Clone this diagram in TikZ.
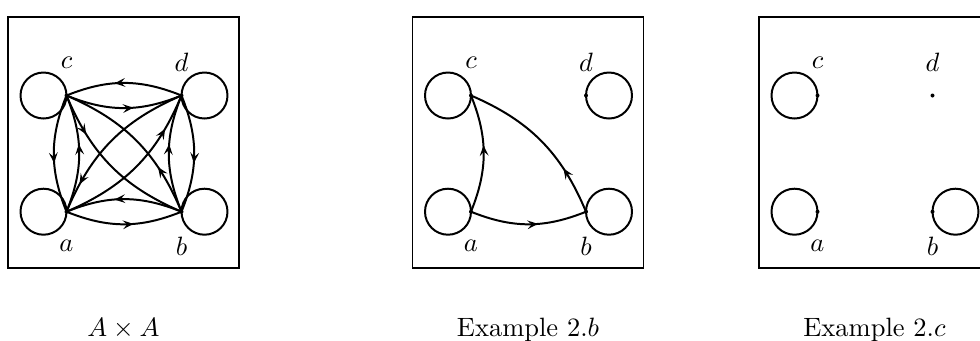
\documentclass[tikz,border=0pt]{standalone}
\usetikzlibrary{arrows.meta,decorations.markings}
\begin{document}
\begin{tikzpicture}[x=0.3774pt,y=0.3774pt,
  boxline/.style={line width=0.75pt},
  edge/.style={line width=0.75pt},
  loopline/.style={line width=0.75pt},
  marr/.style={postaction={decorate},decoration={markings,mark=at position #1 with {\arrow{Stealth[length=4pt,width=3.3pt,inset=1.6pt]}}}},
  lab/.style={inner sep=0pt},
  captext/.style={inner sep=0pt,anchor=base}]
\useasboundingbox (0,0) rectangle (980,340);
% boxes
\draw[boxline] (8,72) rectangle (239,323);
\draw[boxline] (412.5,72) rectangle (643.5,323);
\draw[boxline] (759,72) rectangle (990,323);
% points
\coordinate (p1c) at (66.5,244.5);  \coordinate (p1d) at (181.5,244.5);
\coordinate (p1a) at (66.5,128.3);  \coordinate (p1b) at (181.5,128.3);
\coordinate (p2c) at (471,244.5);   \coordinate (p2d) at (586,244.5);
\coordinate (p2a) at (471,128.3);   \coordinate (p2b) at (586,128.3);
\coordinate (p3c) at (817.5,244.5); \coordinate (p3d) at (932.5,244.5);
\coordinate (p3a) at (817.5,128.3); \coordinate (p3b) at (932.5,128.3);
% loops
\foreach \p in {p1c,p1a,p2c,p2a,p3c,p3a} \draw[loopline] ([xshift=-23*0.3774pt]\p) circle[radius=23];
\foreach \p in {p1d,p1b,p2d,p2b,p3b} \draw[loopline] ([xshift=23*0.3774pt]\p) circle[radius=23];
% dots
\foreach \p in {p1a,p1b,p1c,p1d,p2a,p2b,p2c,p2d,p3a,p3b,p3c,p3d} \fill (\p) circle[radius=2];
% labels
\foreach \i in {1,2,3} {
  \node[lab] (l\i c) at ([yshift=33*0.3774pt]p\i c) {$c$};
  \node[lab] (l\i d) at ([yshift=33*0.3774pt]p\i d) {$d$};
  \node[lab] (l\i a) at ([yshift=-34.3*0.3774pt]p\i a) {$a$};
  \node[lab] (l\i b) at ([yshift=-34.3*0.3774pt]p\i b) {$b$};
}
% panel 1 edges
\draw[edge,marr=0.58] (p1c) to[bend right=22] (p1d);
\draw[edge,marr=0.58] (p1d) to[bend right=22] (p1c);
\draw[edge,marr=0.58] (p1a) to[bend right=22] (p1b);
\draw[edge,marr=0.58] (p1b) to[bend right=22] (p1a);
\draw[edge,marr=0.58] (p1c) to[bend right=22] (p1a);
\draw[edge,marr=0.58] (p1a) to[bend right=22] (p1c);
\draw[edge,marr=0.58] (p1d) to[bend left=22] (p1b);
\draw[edge,marr=0.58] (p1b) to[bend left=22] (p1d);
\draw[edge,marr=0.26] (p1c) to[bend right=22] (p1b);
\draw[edge,marr=0.30] (p1b) to[bend right=22] (p1c);
\draw[edge,marr=0.78] (p1a) to[bend right=22] (p1d);
\draw[edge,marr=0.82] (p1d) to[bend right=22] (p1a);
% panel 2 edges
\draw[edge,marr=0.57] (p2a) to[bend right=22] (p2c);
\draw[edge,marr=0.58] (p2a) to[bend right=22] (p2b);
\draw[edge,marr=0.29] (p2b) to[bend right=22] (p2c);
% captions
\node[captext] (cap1) at (123.5,4) {$A\times A$};
\node[captext] (cap2) at (528,4) {Example 2.$b$};
\node[captext] (cap3) at (874.5,4) {Example 2.$c$};
\end{tikzpicture}
\end{document}
